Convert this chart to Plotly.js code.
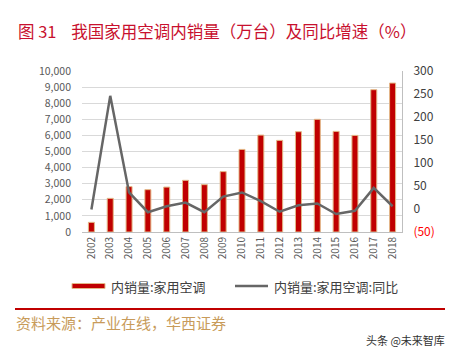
<!DOCTYPE html>
<html><head><meta charset="utf-8">
<script src="https://cdn.plot.ly/plotly-3.0.1.min.js"></script>
<style>html,body{margin:0;padding:0;background:#fff;}#chart{width:455px;height:355px;}</style>
</head><body><div id="chart"></div>
<script>
const years = ['2002','2003','2004','2005','2006','2007','2008','2009','2010','2011','2012','2013','2014','2015','2016','2017','2018'];
const salesVolume = [600, 2090, 2820, 2630, 2790, 3210, 2940, 3750, 5130, 6020, 5690, 6230, 7000, 6250, 6000, 8840, 9250];
const yoyGrowth = [-1, 246, 36, -7, 6, 14, -7, 27, 36, 17, -6, 8, 12, -11, -4, 46, 6];
const leftTicks = [0,1000,2000,3000,4000,5000,6000,7000,8000,9000,10000];
const leftTickText = ['0','1,000','2,000','3,000','4,000','5,000','6,000','7,000','8,000','9,000','10,000'];
const rightTicks = [-50,0,50,100,150,200,250,300];
const rightTickText = ['<span style="color:#ff0000">(50)</span>','0','50','100','150','200','250','300'];
const seriesNames = ['内销量:家用空调', '内销量:家用空调:同比'];

const font = "'Noto Sans CJK SC', 'Noto Sans', sans-serif";
const barColor = '#c00000', barEdge = '#e3b887', lineColor = '#666666';
const traces = [
  {type:'bar', name:seriesNames[0], x:years, y:salesVolume, yaxis:'y', showlegend:false,
   marker:{color:barColor, line:{color:barEdge, width:1}}},
  {type:'scatter', mode:'lines', name:seriesNames[1], x:years, y:yoyGrowth, yaxis:'y2', showlegend:false,
   line:{color:lineColor, width:2.5}}
];
const px = X => (X-82)/320;
const py = Y => (232-Y)/161;
const layout = {
  width:455, height:355,
  margin:{l:82, r:53, t:71, b:123},
  paper_bgcolor:'#fff', plot_bgcolor:'#fff',
  font:{family:font, color:'#595959', size:10},
  bargap:0.68,
  showlegend:false,
  title:{text:'图 31    我国家用空调内销量（万台）及同比增速（%）', x:18/455, xanchor:'left', xref:'container',
         y:1-32/355, yanchor:'middle', yref:'container', font:{family:font, size:16.5, color:'#c8102e'}},
  xaxis:{type:'category', tickangle:-90, showgrid:false, showline:true, linecolor:'#bfbfbf', linewidth:1,
         ticks:'', tickfont:{size:10, color:'#595959'}, range:[-0.5,16.5], fixedrange:true},
  yaxis:{range:[0,10000], tickvals:leftTicks, ticktext:leftTickText, showgrid:true, gridcolor:'#d9d9d9',
         gridwidth:1, zeroline:false, ticks:'', ticklabelstandoff:10, tickfont:{size:10.5, color:'#595959'}},
  yaxis2:{range:[-50,300], overlaying:'y', side:'right', tickvals:rightTicks, ticktext:rightTickText,
          showgrid:false, zeroline:false, showline:true, linecolor:'#bfbfbf', linewidth:1, ticks:'',
          ticklabelstandoff:8, tickfont:{size:12, color:'#404040'}},
  shapes:[
    {type:'rect', xref:'paper', yref:'paper', x0:px(72), x1:px(105), y0:py(283.5), y1:py(288.5),
     fillcolor:barColor, line:{color:barEdge, width:1}},
    {type:'line', xref:'paper', yref:'paper', x0:px(235), x1:px(268), y0:py(286), y1:py(286),
     line:{color:lineColor, width:2.5}},
    {type:'line', xref:'paper', yref:'paper', x0:px(15), x1:px(445), y0:py(309), y1:py(309),
     line:{color:'#c00000', width:2}}
  ],
  annotations:[
    {text:seriesNames[0], xref:'paper', yref:'paper', x:px(109), y:py(286),
     xanchor:'left', yanchor:'middle', showarrow:false, font:{family:font, size:13, color:'#404040'}},
    {text:seriesNames[1], xref:'paper', yref:'paper', x:px(272), y:py(286),
     xanchor:'left', yanchor:'middle', showarrow:false, font:{family:font, size:13, color:'#404040'}},
    {text:'资料来源：产业在线，华西证券', xref:'paper', yref:'paper', x:px(14), y:py(322),
     xanchor:'left', yanchor:'middle', showarrow:false, font:{family:font, size:15, color:'#c89b5a'}},
    {text:'头条 @未来智库', xref:'paper', yref:'paper', x:px(447), y:py(340),
     xanchor:'right', yanchor:'middle', showarrow:false, font:{family:font, size:11, color:'#333333'}}
  ]
};
Plotly.newPlot('chart', traces, layout, {displayModeBar:false, staticPlot:true});
</script></body></html>
